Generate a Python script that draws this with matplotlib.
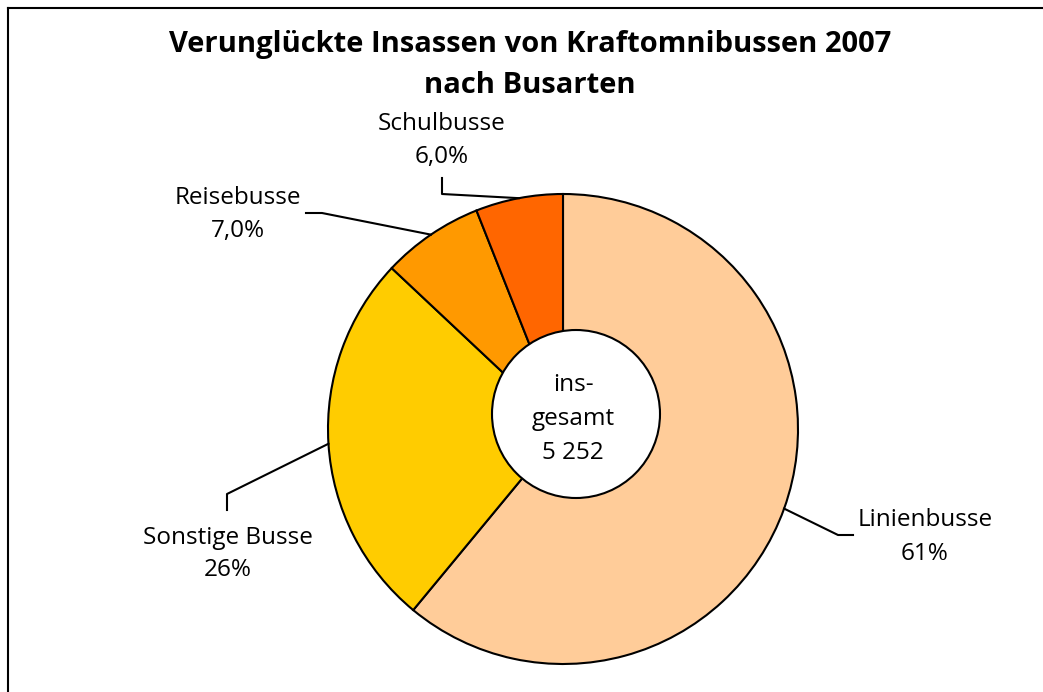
import numpy as np
import matplotlib.pyplot as plt

W, H = 1043, 692

categories = ['Linienbusse', 'Sonstige Busse', 'Reisebusse', 'Schulbusse']
shares = [61.0, 26.0, 7.0, 6.0]
share_labels = ['61%', '26%', '7,0%', '6,0%']
colors = ['#FFCC99', '#FFCC00', '#FF9900', '#FF6600']
total_label = 'ins-\ngesamt\n5 252'
title = 'Verunglückte Insassen von Kraftomnibussen 2007\nnach Busarten'

FONT = ['Open Sans', 'DejaVu Sans']


def py(y):
    """pixel row (top-down) to data y"""
    return H - y


fig = plt.figure(figsize=(W / 100, H / 100), dpi=100)
ax = fig.add_axes([0, 0, 1, 1])

# frame (top and left edges only are visible)
ax.plot([8, W], [py(8), py(8)], color='black', lw=1.5)
ax.plot([8, 8], [py(8), 0], color='black', lw=1.5)

cx, cy, r = 563, py(429), 235
wedges, _ = ax.pie(shares, colors=colors, startangle=90, counterclock=False,
                   center=(cx, cy), radius=r, frame=True,
                   wedgeprops=dict(edgecolor='black', linewidth=1.5))
ax.set_xlim(0, W)
ax.set_ylim(0, H)
ax.set_aspect('equal')
ax.axis('off')

# white centre circle
ax.add_patch(plt.Circle((576, py(414)), 84, facecolor='white',
                        edgecolor='black', lw=1.5, zorder=5))
ax.text(573, py(419), total_label, ha='center', va='center', fontsize=17.5,
        linespacing=1.55, family=FONT, zorder=6)

# label positions (pixel coords) and leader elbows
label_pos = {
    'Linienbusse': (925, 537),
    'Sonstige Busse': (228, 554),
    'Reisebusse': (238, 215),
    'Schulbusse': (442, 141),
}
elbows = {
    'Linienbusse': [(838, 535), (853, 535)],
    'Sonstige Busse': [(227, 494), (227, 510)],
    'Reisebusse': [(322, 213), (306, 213)],
    'Schulbusse': [(442, 194), (442, 178)],
}

for w, cat, lab in zip(wedges, categories, share_labels):
    ang = np.deg2rad((w.theta1 + w.theta2) / 2)
    ex = cx + r * np.cos(ang)
    ey = cy + r * np.sin(ang)
    xs = [ex] + [p[0] for p in elbows[cat]]
    ys = [ey] + [py(p[1]) for p in elbows[cat]]
    ax.plot(xs, ys, color='black', lw=1.5)
    lx, ly = label_pos[cat]
    ax.text(lx, py(ly), f'{cat}\n{lab}', ha='center', va='center',
            fontsize=17.5, linespacing=1.5, family=FONT)

ax.text(530, py(65), title, ha='center', va='center', fontsize=21,
        fontweight='bold', linespacing=1.55, family=FONT)

fig.savefig('out.png', dpi=100)
